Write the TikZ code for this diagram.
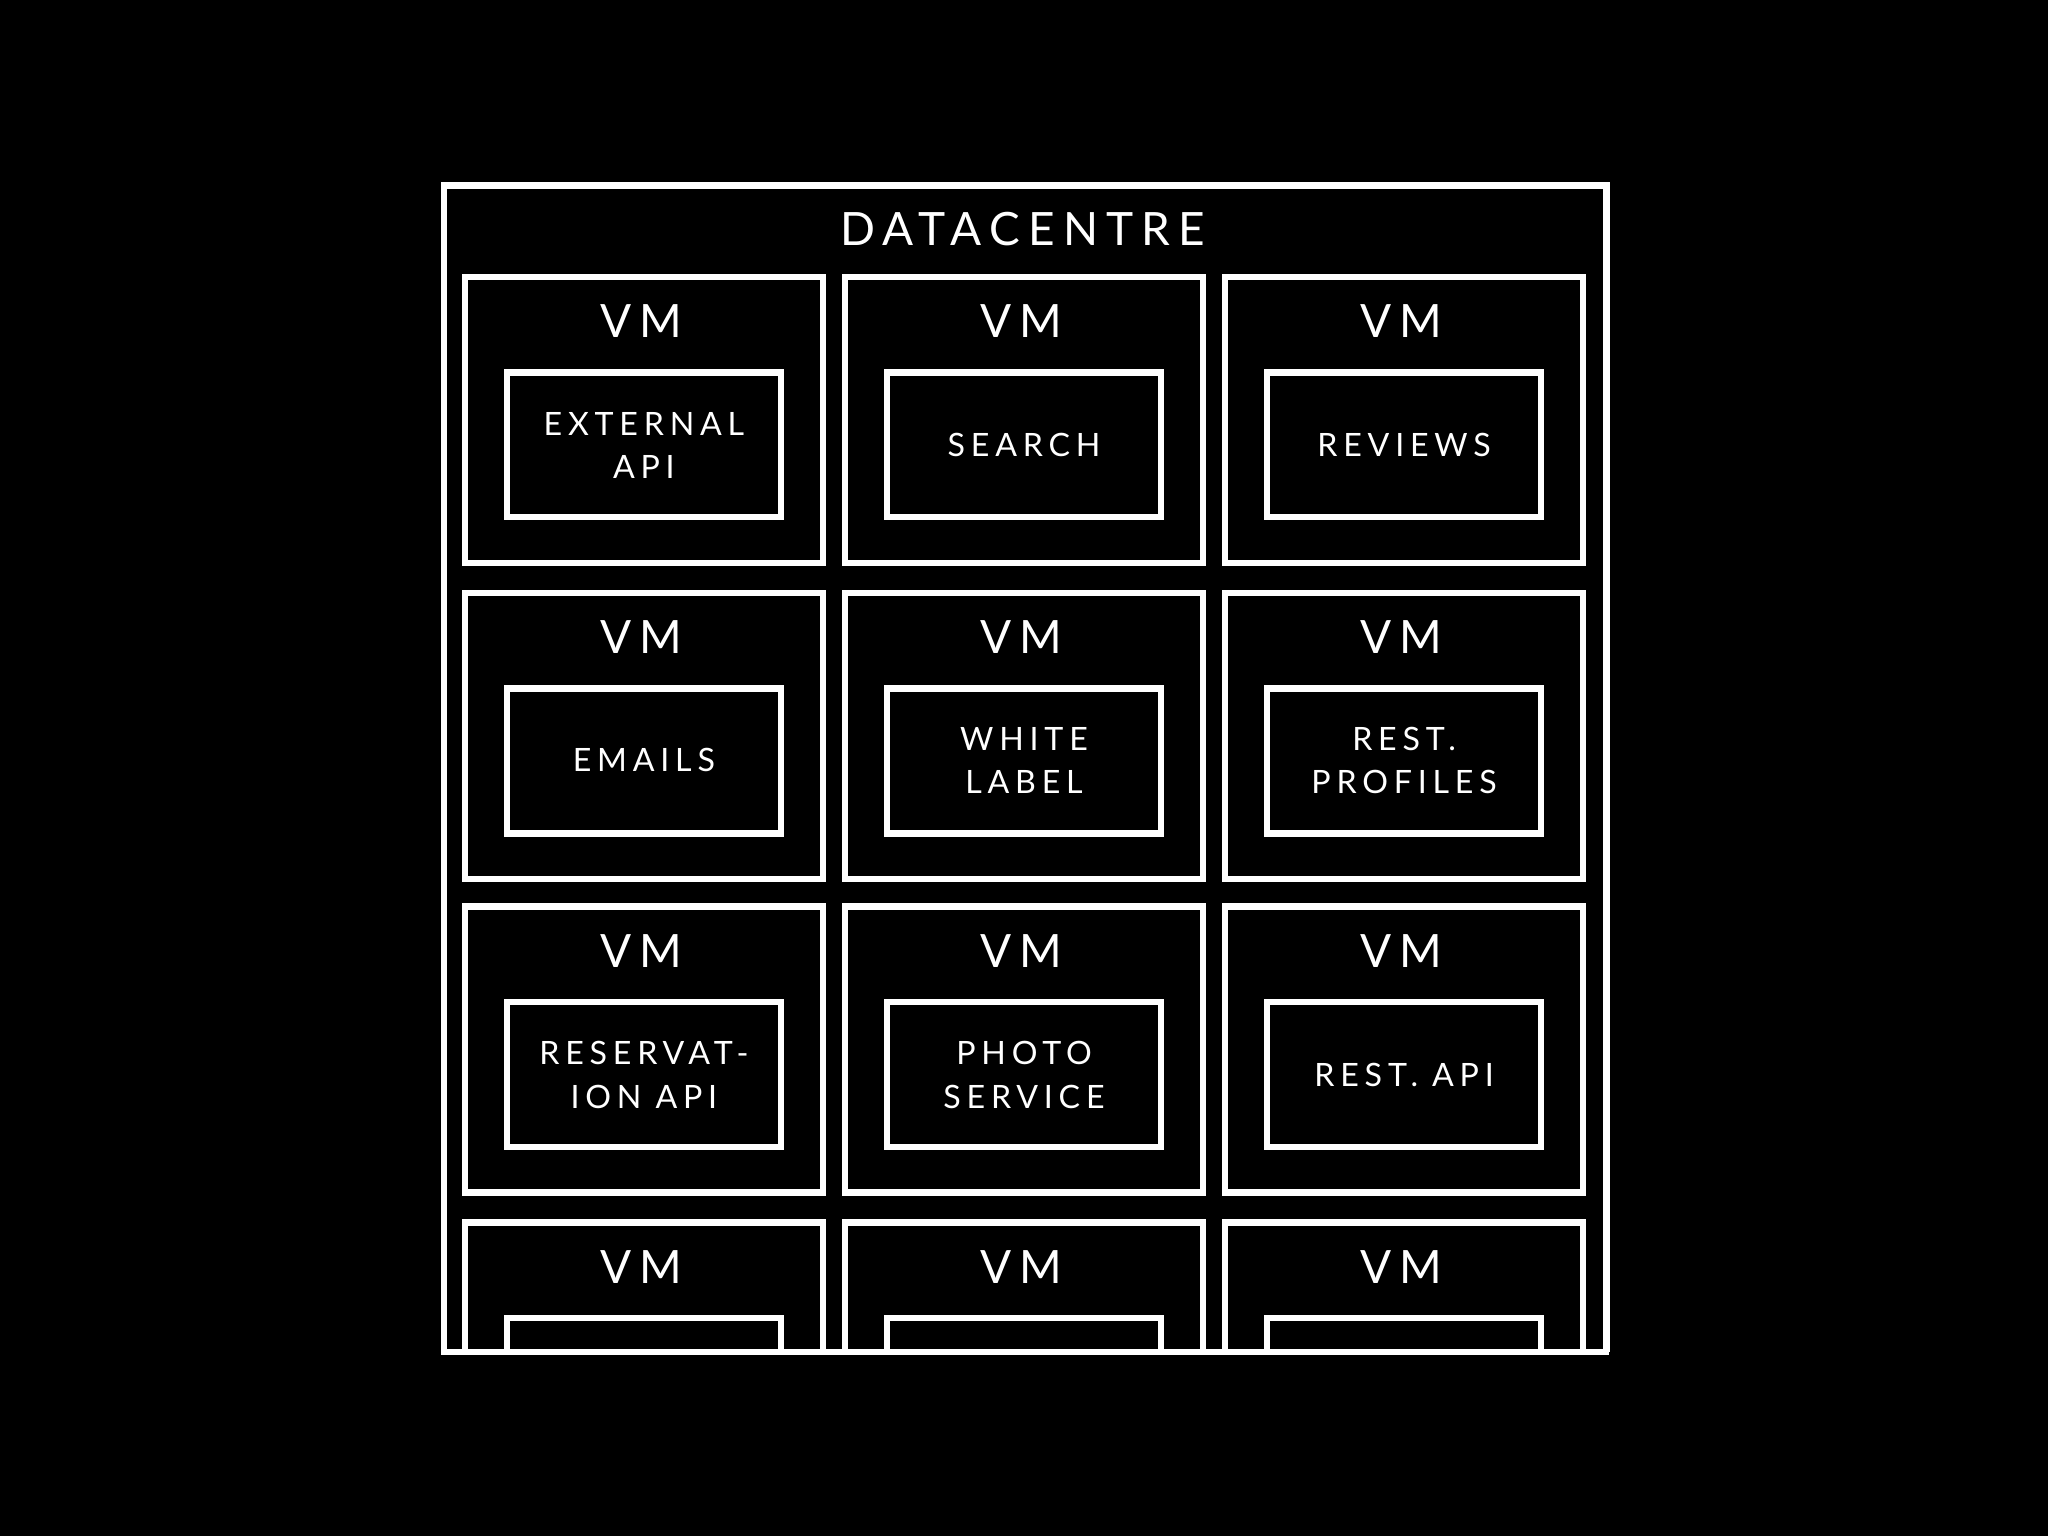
\documentclass[tikz,border=0pt]{standalone}
\usepackage{fontspec}
\setmainfont{Lato}
\newfontfamily\spaced[LetterSpace=18]{Lato}
\begin{document}
\begin{tikzpicture}[x=0.01cm,y=-0.01cm,line width=0.05cm,
  vmbox/.style={draw=white},
  svcbox/.style={draw=white},
  lbl/.style={text=white,font=\spaced\fontsize{10pt}{12pt}\selectfont},
  svc/.style={text=white,align=center,font=\spaced\fontsize{7pt}{9.4pt}\selectfont}]
\fill[black] (0,0) rectangle (1568,1176);
\useasboundingbox (0,0) rectangle (1568,1176);
\node[lbl] (title) at (783,175) {DATACENTRE};
\begin{scope}
\clip (330,130) rectangle (1240,1033);
\foreach \c/\x in {0/356,1/647,2/938}{
  \foreach \r/\y in {0/212,1/454,2/694,3/936}{
    \draw[vmbox] (\x,\y) rectangle ++(274,219);
    \node[lbl] (vm\c\r) at (\x+135,\y+34) {VM};
    \draw[svcbox] (\x+32,\y+73) rectangle ++(210,111);
  }
}
\end{scope}
\draw[white] (340,1035) -- (340,142) -- (1230,142) -- (1230,1035);
\draw[white] (338,1035) -- (1232,1035);
\node[svc] (s1) at (493,341) {EXTERNAL\\API};
\node[svc] (s2) at (784,341) {SEARCH};
\node[svc] (s3) at (1075,341) {REVIEWS};
\node[svc] (s4) at (493,582) {EMAILS};
\node[svc] (s5) at (784,582) {WHITE\\LABEL};
\node[svc] (s6) at (1075,582) {REST.\\PROFILES};
\node[svc] (s7) at (493,823) {RESERVAT-\\ION API};
\node[svc] (s8) at (784,823) {PHOTO\\SERVICE};
\node[svc] (s9) at (1075,823) {REST. API};
\end{tikzpicture}
\end{document}
